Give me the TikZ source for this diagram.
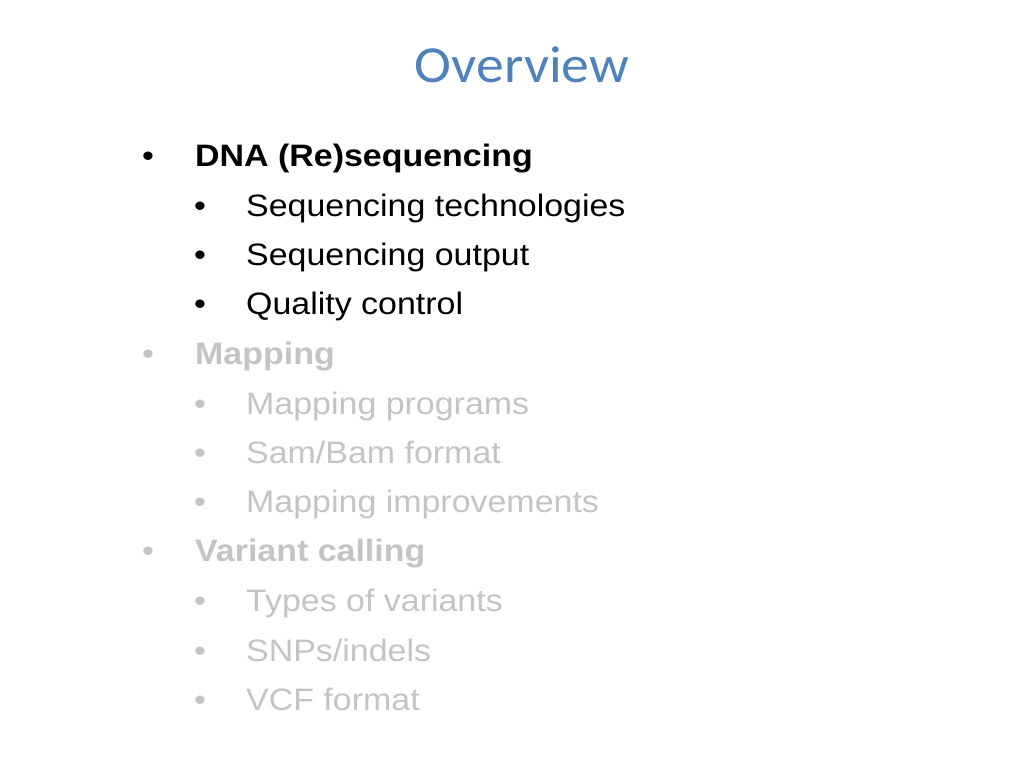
\documentclass[tikz,border=0pt]{standalone}
\usepackage{fontspec}
\usepackage{xcolor}
\usepackage{tikz}
\usetikzlibrary{positioning}
\setmainfont[FakeStretch=1.095]{Liberation Sans}
\newfontfamily\titlefont[FakeStretch=1.07]{Carlito}
\definecolor{titleblue}{RGB}{79,129,189}
\definecolor{fadegrey}{RGB}{196,196,196}
\tikzstyle{heading} = [anchor=base, inner sep=0pt, text=titleblue, font=\titlefont\fontsize{52}{60}\selectfont]

\begin{document}
\begin{tikzpicture}[
        x=1pt, y=1pt,
        line/.style={anchor=base west, inner sep=0pt, font=\fontsize{31}{37}\selectfont},
        mainitem/.style={line, font=\bfseries\fontsize{31}{37}\selectfont},
        dot/.style={line},
        faded/.style={text=fadegrey}
    ]
        \useasboundingbox (0,0) rectangle (1024,-768);

        % Title
        \node (title) [heading] at (522,-82) {Overview};

        % DNA (Re)sequencing block
        \node (bdna) [dot] at (142,-166) {\textbullet};
        \node (dna) [mainitem] at (195,-166) {DNA (Re)sequencing};
        \node (btech) [dot] at (194,-216) {\textbullet};
        \node (tech) [line] at (246,-216) {Sequencing technologies};
        \node (bout) [dot] at (194,-265) {\textbullet};
        \node (out) [line] at (246,-265) {Sequencing output};
        \node (bqc) [dot] at (194,-314) {\textbullet};
        \node (qc) [line] at (246,-314) {Quality control};

        % Mapping block
        \node (bmap) [dot, faded] at (142,-364) {\textbullet};
        \node (map) [mainitem, faded] at (195,-364) {Mapping};
        \node (bprog) [dot, faded] at (194,-414) {\textbullet};
        \node (prog) [line, faded] at (246,-414) {Mapping programs};
        \node (bsam) [dot, faded] at (194,-463) {\textbullet};
        \node (sam) [line, faded] at (246,-463) {Sam/Bam format};
        \node (bimpr) [dot, faded] at (194,-512) {\textbullet};
        \node (impr) [line, faded] at (246,-512) {Mapping improvements};

        % Variant calling block
        \node (bvar) [dot, faded] at (142,-561) {\textbullet};
        \node (var) [mainitem, faded] at (195,-561) {Variant calling};
        \node (btypes) [dot, faded] at (194,-611) {\textbullet};
        \node (types) [line, faded] at (246,-611) {Types of variants};
        \node (bsnp) [dot, faded] at (194,-661) {\textbullet};
        \node (snp) [line, faded] at (246,-661) {SNPs/indels};
        \node (bvcf) [dot, faded] at (194,-710) {\textbullet};
        \node (vcf) [line, faded] at (246,-710) {VCF format};

    \end{tikzpicture}
\end{document}
